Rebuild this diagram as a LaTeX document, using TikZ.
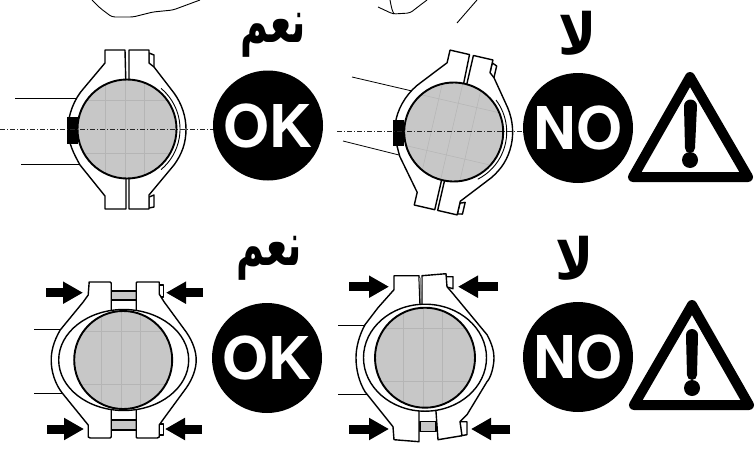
\documentclass[tikz,border=0pt]{standalone}
\usepackage{fontspec}
\usetikzlibrary{arrows.meta,positioning,calc}
\TeXXeTstate=1
\setsansfont{TeX Gyre Heros}
\newfontfamily\arabicfont[Script=Arabic]{DejaVu Sans}
\tikzset{discbox/.style={circle,fill=black,text=white,minimum size=110pt,inner sep=0pt,font=\sffamily\bfseries\fontsize{59}{59}\selectfont},wordlabel/.style={inner sep=0pt,font=\arabicfont\bfseries\fontsize{38}{38}\selectfont},clampline/.style={line width=1.4pt,line join=round,fill=white},thinline/.style={line width=0.8pt},axisline/.style={line width=0.8pt,dash pattern=on 5pt off 2pt on 1pt off 2pt,draw=black!85},pressarr/.style={-{Triangle[length=20pt,width=21pt]},line width=9pt,draw=black},warnbox/.style={line width=10pt,line join=round,draw=black,fill=white},scribble/.style={line width=0.9pt,rounded corners=3pt}}
% gauge face, radius as argument
\newcommand\lensface[1]{%
\fill[black!22] (0,0) circle (#1);
\begin{scope}
\clip (0,0) circle (#1);
\foreach \gx in {-22,-2,17}{\draw[black!29,line width=0.5pt] (\gx,-60)--(\gx,60);}
\foreach \gy in {-29,24}{\draw[black!29,line width=0.5pt] (-60,\gy)--(60,\gy);}
\end{scope}
\draw[line width=1.9pt] (0,0) circle (#1);}
% clamp of the upper row
\newcommand\upperclamp{%
\draw[clampline] (22,-76)--(27,-74)--(27,-60)--(22,-62)--cycle;
\draw[clampline] (22,68)--(27,66)--(27,78)--(22,79)--cycle;
\draw[clampline] (2,-79)--(22,-79)--(22,-66)--(27,-62)--(47,-36) .. controls (55,-25) and (59,-12) .. (59,0) .. controls (59,14) and (55,25) .. (47,36)--(22,66)--(22,80)--(2,80)--(2,40)--(2,-40)--cycle;
\draw[clampline] (-2,-79)--(-22,-79)--(-22,-66)--(-43,-41) .. controls (-53,-30) and (-59,-14) .. (-59,0) .. controls (-59,14) and (-53,25) .. (-47,36)--(-22,67)--(-22,80)--(-1,80)--(-1,40)--(-1,-40)--cycle;
\draw[line width=0.9pt] (-50:53) arc (-50:50:53);
\lensface{49.5}}
\begin{document}
\begin{tikzpicture}[x=1pt,y=-1pt]
\useasboundingbox (0,0) rectangle (755,450);
% scribbles at the top edge
\draw[scribble] (92,0)--(100,8)--(112,17)--(133,17)--(153,12)--(173,10)--(200,0);
\draw[scribble] (378,7)--(393,14)--(410,13)--(423,3)--(427,0);
\draw[scribble] (390,0)--(392,10)--(394,14);
\draw[scribble] (457,23)--(477,0);
% upper row, first clamp
\draw[thinline] (15,98)--(80,98);
\draw[thinline] (21,164)--(80,164);
\begin{scope}[shift={(127,129)}]
\upperclamp
\end{scope}
\fill (67,117) rectangle (78,144);
\draw[axisline] (0,129.7)--(213,129.7);
\node[discbox] (okup) at (268,125.5) {OK};
\node[wordlabel] (yesup) at (273,35) {\scalebox{1}[1.6]{\beginR نعم\endR}};
% upper row, second clamp
\draw[thinline] (352,77)--(412,91);
\draw[thinline] (343,141)--(399,155);
\begin{scope}[shift={(453.7,132)},rotate=-13]
\upperclamp
\end{scope}
\fill (393,120) rectangle (404,146);
\draw[axisline] (337,131)--(523,131);
\node[discbox] (noup) at (578,128) {NO};
\node[wordlabel] (notup) at (578,33) {\scalebox{1.35}[1.5]{\beginR لا\endR}};
\draw[warnbox] (690,77)--(633,177)--(748,177)--cycle;
\fill (684,106) arc (180:360:6.5) -- (695,148) arc (0:180:5) -- cycle;
\fill (690,160) circle (8);
% lower row, first clamp
\draw[thinline] (34,329.3)--(62,329.3);
\draw[thinline] (34,393.7)--(64,393.7);
\begin{scope}[shift={(123.2,360)}]
\draw[clampline] (36,-75)--(40,-75)--(40,-63)--(36,-63)--cycle;
\draw[clampline] (36,64)--(40,64)--(40,75)--(36,75)--cycle;
\draw[clampline,fill=black!22] (-12,-69) rectangle (13,-60);
\draw[clampline,fill=black!22] (-12,60) rectangle (13,70);
\draw[clampline] (-12,-51)--(-12,-77) .. controls (-12,-78) .. (-13,-78)--(-34,-78)--(-35,-65)--(-40,-58)--(-63,-30) .. controls (-70,-18) and (-72,-8) .. (-72,0) .. controls (-72,12) and (-68,24) .. (-61,33)--(-35,65)--(-35,77)--(-33,78)--(-13,78)--(-12,77)--(-12,51)--cycle;
\draw[clampline] (13,-51)--(13,-77)--(14,-78)--(36,-78)--(36,-66)--(41,-58)--(63,-28) .. controls (70,-18) and (73,-8) .. (73,0) .. controls (73,8) and (70,18) .. (63,28)--(41,58)--(36,65)--(36,77)--(34,78)--(14,78)--(13,77)--(13,51)--cycle;
\draw[line width=1.4pt,fill=white] (0.5,0) ellipse (65 and 50.5);
\lensface{49}
\end{scope}
\node[discbox] (okdown) at (267,358) {OK};
\node[wordlabel] (yesdown) at (269,258) {\scalebox{1}[1.6]{\beginR نعم\endR}};
% lower row, second clamp
\draw[thinline] (338,325.7)--(366,325.7);
\draw[thinline] (338,394)--(367,394);
\begin{scope}[shift={(425,357.7)}]
\draw[clampline] (21,-81)--(28,-81)--(28,-69)--(21,-71)--cycle;
\draw[clampline] (35,64)--(42,64)--(42,77)--(36,78)--cycle;
\draw[clampline,fill=black!22] (-5,64) rectangle (11,74);
\draw[clampline] (-5,-53)--(-6,-82)--(-31,-82)--(-31,-68)--(-47,-50)--(-60,-33) .. controls (-66,-22) and (-69,-10) .. (-69,0) .. controls (-69,12) and (-66,24) .. (-60,34)--(-32,69)--(-31,82)--(-6,84)--(-6,54)--cycle;
\draw[clampline] (-3,-53)--(-3,-82)--(21,-84)--(22,-71)--(28,-64)--(62,-23) .. controls (67,-14) and (69,-6) .. (69,0) .. controls (69,8) and (66,20) .. (62,24)--(42,57)--(35,64)--(37,78)--(13,82)--(11,54)--cycle;
\fill[black!45] (-6,-80)--(-3,-80)--(-4,-53)--cycle;
\draw[line width=1.4pt,fill=white] (0,0) ellipse (61.5 and 53.5);
\lensface{50}
\end{scope}
\node[discbox] (nodown) at (578,357) {NO};
\node[wordlabel] (notdown) at (575,258) {\scalebox{1.35}[1.5]{\beginR لا\endR}};
\draw[warnbox] (692,305)--(634,405)--(749,405)--cycle;
\fill (686,335) arc (180:360:6) -- (697,375) arc (0:180:5) -- cycle;
\fill (692,388) circle (8);
% squeeze arrows
\foreach \ax/\ay/\bx in {46/292.7/83,203/292.7/166,47/429/84,202/429/165,349/286.7/389,498/286.7/458,349/429/389,510/429/471}{
\draw[pressarr] (\ax,\ay)--(\bx,\ay);}
\end{tikzpicture}
\end{document}
